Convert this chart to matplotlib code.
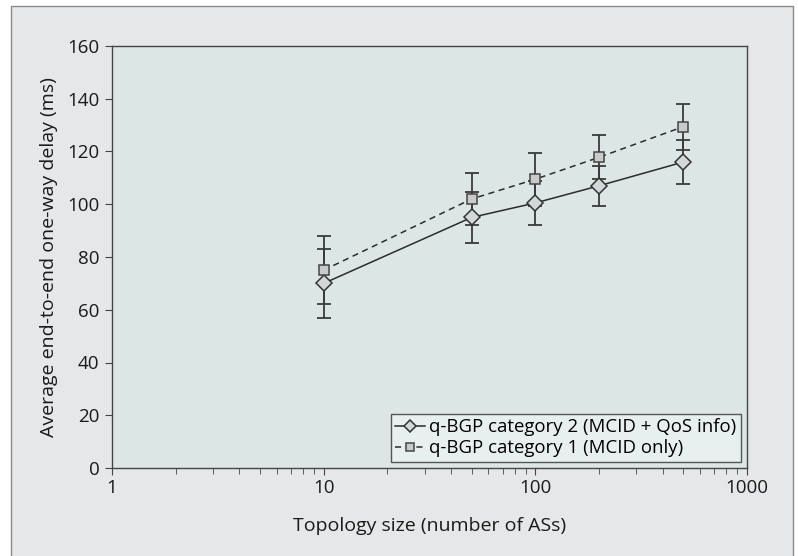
import matplotlib
matplotlib.use("Agg")
import matplotlib.pyplot as plt
from matplotlib.patches import Rectangle

plt.rcParams["font.family"] = ["Open Sans", "DejaVu Sans"]

# topology sizes (number of ASs)
sizes = [10, 50, 100, 200, 500]

# q-BGP category 2 (MCID + QoS info)
cat2_delay = [70.0, 95.0, 100.5, 107.0, 116.0]
cat2_err = [13.0, 9.8, 8.5, 7.5, 8.5]

# q-BGP category 1 (MCID only)
cat1_delay = [75.0, 102.0, 109.5, 117.8, 129.4]
cat1_err = [13.0, 10.0, 10.0, 8.3, 8.7]

y_ticks = [0, 20, 40, 60, 80, 100, 120, 140, 160]
x_ticks = [1, 10, 100, 1000]
x_tick_labels = ["1", "10", "100", "1000"]

LINE = "#2b2b2b"
ERR = "#3a3a3a"

fig = plt.figure(figsize=(7.98, 5.56), dpi=100)
fig.patch.set_facecolor("white")

# outer grey panel
fig.patches.append(Rectangle((11 / 798, -0.01), (793 - 11) / 798, 1 - 6 / 556 + 0.01,
                             transform=fig.transFigure, facecolor="#e6e7e8",
                             edgecolor="#8a8a8a", linewidth=1.0, zorder=-10))

ax = fig.add_axes([112 / 798, 1 - 468 / 556, (747 - 112) / 798, (468 - 46) / 556])
ax.set_facecolor("#dce7e5")

ax.errorbar(sizes, cat2_delay, yerr=cat2_err, fmt="none", ecolor=ERR,
            elinewidth=1.3, capsize=5, capthick=1.3, zorder=2)
ax.errorbar(sizes, cat1_delay, yerr=cat1_err, fmt="none", ecolor=ERR,
            elinewidth=1.3, capsize=5, capthick=1.3, zorder=2)

ax.plot(sizes, cat2_delay, color=LINE, linestyle="-", linewidth=1.1,
        marker="D", markersize=8, markerfacecolor="#d2d8d7",
        markeredgecolor="#333333", markeredgewidth=1.1,
        label="q-BGP category 2 (MCID + QoS info)", zorder=3)
ax.plot(sizes, cat1_delay, color=LINE, linestyle=(0, (4, 3)), linewidth=1.1,
        marker="s", markersize=7, markerfacecolor="#c9cbcb",
        markeredgecolor="#444444", markeredgewidth=1.1,
        label="q-BGP category 1 (MCID only)", zorder=3)

ax.set_xscale("log")
ax.set_xlim(1, 1000)
ax.set_ylim(0, 160)
ax.set_xticks(x_ticks)
ax.set_xticklabels(x_tick_labels)
ax.set_yticks(y_ticks)

for s in ax.spines.values():
    s.set_color("#444444")
    s.set_linewidth(1.0)

ax.tick_params(axis="both", which="major", direction="out", length=5,
               color="#444444", labelsize=13.5, labelcolor="#1a1a1a")
ax.tick_params(axis="x", which="minor", direction="out", length=4, color="#444444")
ax.tick_params(axis="x", which="major", pad=3)
ax.tick_params(axis="y", which="major", pad=4)

ax.set_xlabel("Topology size (number of ASs)", fontsize=14, color="#1a1a1a", labelpad=14)
ax.set_ylabel("Average end-to-end one-way delay (ms)", fontsize=14, color="#1a1a1a", labelpad=7)

leg = ax.legend(loc="lower right", bbox_to_anchor=(0.99, 0.015), borderaxespad=0,
                fancybox=False, framealpha=1, facecolor="#e8f0ef", edgecolor="#555555",
                fontsize=13.4, handlelength=1.6, handletextpad=0.2, labelspacing=0.14,
                borderpad=0.25, markerscale=0.75)
leg.get_frame().set_linewidth(1.0)

fig.savefig("out.png", dpi=100)
